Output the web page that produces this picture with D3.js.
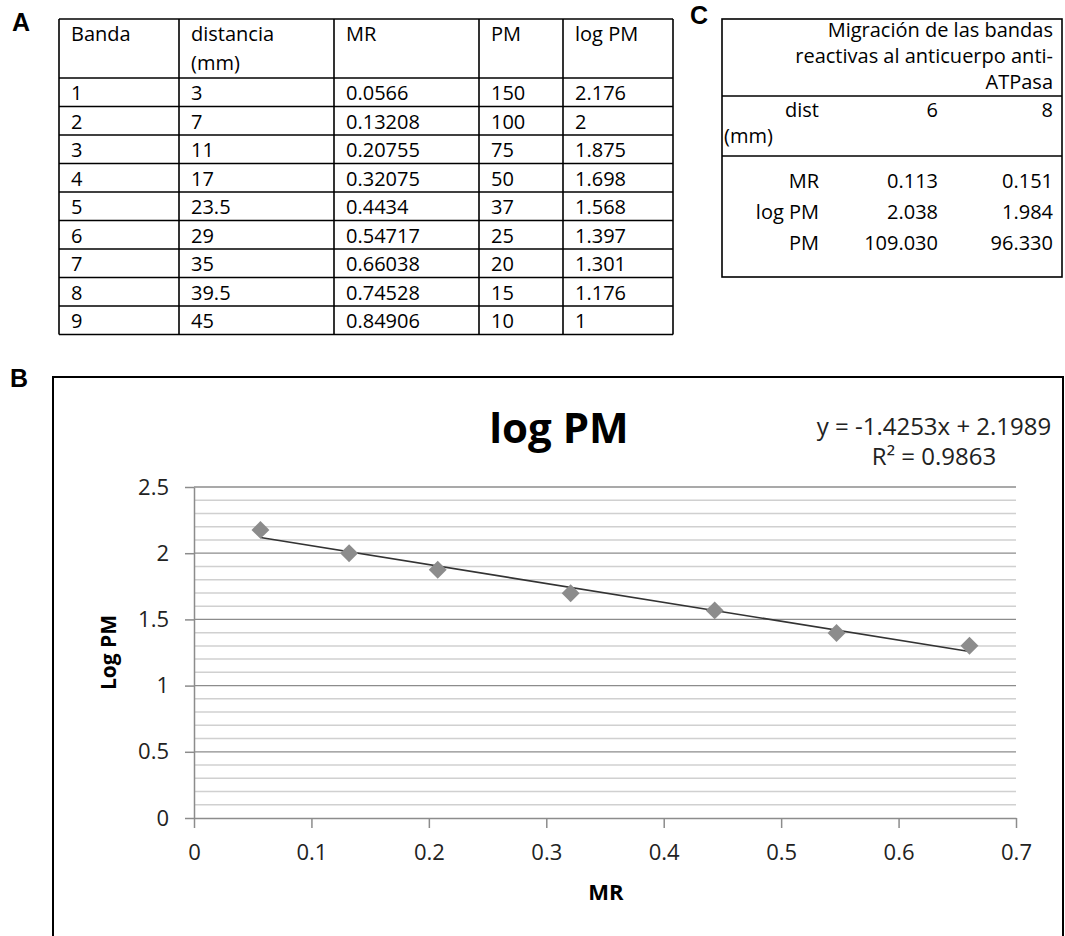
<!DOCTYPE html>
<html>
<head>
<meta charset="utf-8">
<script src="https://cdnjs.cloudflare.com/ajax/libs/d3/7.8.5/d3.min.js"></script>
<style>
  body { margin: 0; background: #fff; }
  svg { display: block; }
  text { font-family: "Open Sans", sans-serif; }
</style>
</head>
<body>
<script>
// tabla A
let bandas = ["1", "2", "3", "4", "5", "6", "7", "8", "9"];
let distancias = ["3", "7", "11", "17", "23.5", "29", "35", "39.5", "45"];
let mrVals = [0.0566, 0.13208, 0.20755, 0.32075, 0.4434, 0.54717, 0.66038, 0.74528, 0.84906];
let mrText = ["0.0566", "0.13208", "0.20755", "0.32075", "0.4434", "0.54717", "0.66038", "0.74528", "0.84906"];
let pmVals = ["150", "100", "75", "50", "37", "25", "20", "15", "10"];
let logPmVals = [2.176, 2, 1.875, 1.698, 1.568, 1.397, 1.301, 1.176, 1];
let logPmText = ["2.176", "2", "1.875", "1.698", "1.568", "1.397", "1.301", "1.176", "1"];
let headersA = [["Banda"], ["distancia", "(mm)"], ["MR"], ["PM"], ["log PM"]];

// tabla C
let tituloC = ["Migración de las bandas", "reactivas al anticuerpo anti-", "ATPasa"];
let distC = ["6", "8"];
let mrC = ["0.113", "0.151"];
let logPmC = ["2.038", "1.984"];
let pmC = ["109.030", "96.330"];

// grafico B (solo las 7 primeras bandas)
let nPuntos = 7;
let pendiente = -1.4253, intercepto = 2.1989, r2 = "0.9863";
let xTicks = [0, 0.1, 0.2, 0.3, 0.4, 0.5, 0.6, 0.7];
let yTicks = [0, 0.5, 1, 1.5, 2, 2.5];

let width = 1065, height = 936;
let svg = d3.select("body").append("svg")
    .attr("width", width).attr("height", height);

// letras de panel
let panel = (t, x, y) => svg.append("text").text(t).attr("x", x).attr("y", y)
    .style("font-family", "'Liberation Sans', Arial, sans-serif")
    .attr("font-weight", "bold").attr("font-size", 25);
panel("A", 12, 31);
panel("C", 690, 24);
panel("B", 10, 387);

// ---------- TABLA A ----------
let colX = [59, 179, 334, 479, 563, 673];
let rowY = [19, 78];
for (let i = 1; i <= bandas.length; i++) rowY.push(78 + i * 28.5);
let tA = svg.append("g");
let filas = bandas.map((b, i) => [b, distancias[i], mrText[i], pmVals[i], logPmText[i]]);

tA.selectAll("line.h").data(rowY).enter().append("line")
    .attr("x1", colX[0]).attr("x2", colX[5])
    .attr("y1", d => d).attr("y2", d => d)
    .attr("stroke", "#000").attr("stroke-width", 1.6);
tA.selectAll("line.v").data(colX).enter().append("line")
    .attr("x1", d => d).attr("x2", d => d)
    .attr("y1", rowY[0]).attr("y2", rowY[rowY.length - 1])
    .attr("stroke", "#000").attr("stroke-width", 1.6);

headersA.forEach((h, c) => {
    h.forEach((ln, k) => {
        tA.append("text").text(ln).attr("x", colX[c] + 12).attr("y", 41 + k * 29)
            .attr("font-size", 20);
    });
});
filas.forEach((f, r) => {
    f.forEach((v, c) => {
        tA.append("text").text(v).attr("x", colX[c] + 12).attr("y", rowY[r + 1] + 22)
            .attr("font-size", 20);
    });
});

// ---------- TABLA C ----------
let tC = svg.append("g");
tC.append("rect").attr("x", 722).attr("y", 19).attr("width", 340).attr("height", 258)
    .attr("fill", "none").attr("stroke", "#000").attr("stroke-width", 1.6);
[96, 156].forEach(yy => tC.append("line").attr("x1", 722).attr("x2", 1062)
    .attr("y1", yy).attr("y2", yy).attr("stroke", "#000").attr("stroke-width", 1.6));
tituloC.forEach((t, k) => tC.append("text").text(t).attr("x", 1053).attr("y", 37 + k * 26)
    .attr("text-anchor", "end").attr("font-size", 20));
let filasC = [
    { lab: "dist", vals: distC, y: 117 },
    { lab: "MR", vals: mrC, y: 188 },
    { lab: "log PM", vals: logPmC, y: 219 },
    { lab: "PM", vals: pmC, y: 250 }
];
let colC = [819, 938, 1053];
filasC.forEach(f => {
    [f.lab].concat(f.vals).forEach((v, c) => {
        tC.append("text").text(v).attr("x", colC[c]).attr("y", f.y)
            .attr("text-anchor", "end").attr("font-size", 20);
    });
});
tC.append("text").text("(mm)").attr("x", 724).attr("y", 143).attr("font-size", 20);

// ---------- GRAFICO B ----------
svg.append("rect").attr("x", 53).attr("y", 377).attr("width", 1010).attr("height", 600)
    .attr("fill", "none").attr("stroke", "#000").attr("stroke-width", 2);

let x = d3.scaleLinear().domain([0, 0.7]).range([194, 1016]);
let y = d3.scaleLinear().domain([0, 2.5]).range([818, 487]);
let fmt = d => String(+d.toFixed(1));

// lineas de division
let minor = d3.range(0, 26).map(i => i / 10).filter(v => Math.abs(v * 2 - Math.round(v * 2)) > 1e-6);
svg.append("g").selectAll("line").data(minor).enter().append("line")
    .attr("x1", x(0)).attr("x2", x(0.7))
    .attr("y1", d => y(d)).attr("y2", d => y(d))
    .attr("stroke", "#d0d0d0").attr("stroke-width", 1.5);
svg.append("g").selectAll("line").data(yTicks.slice(1)).enter().append("line")
    .attr("x1", x(0)).attr("x2", x(0.7))
    .attr("y1", d => y(d)).attr("y2", d => y(d))
    .attr("stroke", "#8c8c8c").attr("stroke-width", 1.3);

let gx = svg.append("g").attr("transform", `translate(0,${y(0)})`)
    .call(d3.axisBottom(x).tickValues(xTicks).tickFormat(fmt).tickSize(10).tickSizeOuter(0));
let gy = svg.append("g").attr("transform", `translate(${x(0)},0)`)
    .call(d3.axisLeft(y).tickValues(yTicks).tickFormat(fmt).tickSize(9).tickSizeOuter(0).tickPadding(16));
[gx, gy].forEach(g => {
    g.select(".domain").attr("stroke", "#8c8c8c").attr("stroke-width", 1.5);
    g.selectAll(".tick line").attr("stroke", "#8c8c8c").attr("stroke-width", 1.5);
    g.selectAll(".tick text").attr("fill", "#222").attr("font-size", 22)
        .style("font-family", "'Open Sans', sans-serif");
});
gx.selectAll(".tick text").attr("y", 42).attr("dy", 0);

// linea de tendencia
let px = mrVals.slice(0, nPuntos), py = logPmVals.slice(0, nPuntos);
let tendencia = [d3.min(px), d3.max(px)].map(v => [v, pendiente * v + intercepto]);
svg.append("path").attr("d", d3.line().x(d => x(d[0])).y(d => y(d[1]))(tendencia))
    .attr("stroke", "#333").attr("stroke-width", 1.6).attr("fill", "none");

// puntos (rombos)
svg.append("g").selectAll("path").data(px.map((v, i) => [v, py[i]])).enter().append("path")
    .attr("d", d3.symbol(d3.symbolSquare, 160))
    .attr("transform", d => `translate(${x(d[0])},${y(d[1])}) rotate(45)`)
    .attr("fill", "#8c8c8c");

// titulos
svg.append("text").text("log PM").attr("x", 559).attr("y", 443)
    .attr("text-anchor", "middle").attr("font-weight", "bold").attr("font-size", 42);
svg.append("text").text(`y = ${pendiente}x + ${intercepto}`).attr("x", 934).attr("y", 435)
    .attr("text-anchor", "middle").attr("font-size", 24).attr("fill", "#222");
svg.append("text").text(`R² = ${r2}`).attr("x", 934).attr("y", 465)
    .attr("text-anchor", "middle").attr("font-size", 24).attr("fill", "#222");
svg.append("text").text("MR").attr("x", 606).attr("y", 900)
    .attr("text-anchor", "middle").attr("font-weight", "bold").attr("font-size", 22);
svg.append("text").text("Log PM")
    .attr("transform", `translate(116,${(y(0) + y(2.5)) / 2}) rotate(-90)`)
    .attr("text-anchor", "middle").attr("font-weight", "bold").attr("font-size", 21);
</script>
</body>
</html>
